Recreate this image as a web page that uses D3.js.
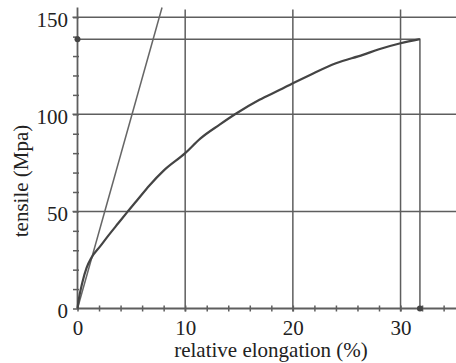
<!DOCTYPE html>
<html>
<head>
<meta charset="utf-8">
<script src="https://cdn.jsdelivr.net/npm/d3@7"></script>
<style>
  body { margin: 0; background: #fff; }
  svg text { font-family: "Liberation Serif", "DejaVu Serif", serif; }
</style>
</head>
<body>
<svg class="chart"></svg>
<script>
// measured curve: relative elongation (%) vs tensile (Mpa)
const elongation = [0, 0.1, 0.45, 0.85, 1.3, 2.1, 2.9, 3.8, 4.6, 5.5, 6.7, 8, 10, 11.4, 13.2, 14.7, 16.9, 18.8, 20, 21.6, 24, 26.5, 28, 30, 31.8];
const tensile    = [0, 4, 13.4, 21, 26.2, 32, 37.8, 44, 49.5, 55.5, 63.5, 71, 80, 87.5, 94.7, 100.3, 107.5, 112.6, 116, 120.3, 126.3, 130.6, 133.5, 136.6, 138.7];
// straight elastic line
const lineX = [0, 7.85];
const lineY = [0, 155];
// break point
const breakX = 31.8, breakY = 138.7;
const xTicks = [0, 10, 20, 30];
const yTicks = [0, 50, 100, 150];

function chart() {
    const W = 456, H = 363;
    const margin = {top: 7.5, right: 0, bottom: 54.5, left: 77.5},
        width = W - margin.left - margin.right,
        height = H - margin.top - margin.bottom;

    const svg = d3.select(".chart")
        .attr("width", W)
        .attr("height", H)
        .append("g")
        .attr("transform", `translate(${margin.left}, ${margin.top})`);

    const x = d3.scaleLinear().domain([0, 35.15]).range([0, width]);
    const y = d3.scaleLinear().domain([0, 155]).range([height, 0]);

    const gridColor = "#5e5e5e";

    // horizontal grid
    svg.append("g").selectAll("line")
        .data(yTicks.filter(d => d > 0))
        .join("line")
        .attr("x1", -5).attr("x2", width)
        .attr("y1", d => y(d)).attr("y2", d => y(d))
        .attr("stroke", gridColor).attr("stroke-width", 1.5);

    // vertical grid
    svg.append("g").selectAll("line")
        .data(xTicks.filter(d => d > 0))
        .join("line")
        .attr("x1", d => x(d)).attr("x2", d => x(d))
        .attr("y1", y(154)).attr("y2", height + 3)
        .attr("stroke", gridColor).attr("stroke-width", 1.5);

    // break guide lines
    svg.append("path")
        .attr("d", `M${x(0)},${y(breakY)}H${x(breakX)}V${y(0)}`)
        .attr("fill", "none")
        .attr("stroke", gridColor).attr("stroke-width", 1.5);

    // minor ticks
    svg.append("g")
        .attr("transform", `translate(0,${height - 3})`)
        .call(d3.axisBottom(x).tickValues(d3.range(0, 35, 2)).tickSize(6).tickFormat(""))
        .call(g => g.select(".domain").remove())
        .call(g => g.selectAll("line").attr("stroke", gridColor).attr("stroke-width", 1.5));

    svg.append("g")
        .attr("transform", "translate(1.5,0)")
        .call(d3.axisLeft(y).tickValues(d3.range(0, 151, 10)).tickSize(6).tickFormat(""))
        .call(g => g.select(".domain").remove())
        .call(g => g.selectAll("line").attr("stroke", gridColor).attr("stroke-width", 1.5));

    // axis lines
    svg.append("line")
        .attr("x1", 0).attr("x2", width)
        .attr("y1", height).attr("y2", height)
        .attr("stroke", gridColor).attr("stroke-width", 1.8);
    svg.append("line")
        .attr("x1", 0).attr("x2", 0)
        .attr("y1", height).attr("y2", y(155))
        .attr("stroke", gridColor).attr("stroke-width", 1.8);

    // tick labels
    svg.append("g")
        .attr("transform", `translate(0,${height})`)
        .call(d3.axisBottom(x).tickValues(xTicks).tickSize(0).tickPadding(12))
        .call(g => g.select(".domain").remove())
        .call(g => g.attr("font-family", null).attr("font-size", 21))
        .call(g => g.selectAll("text").attr("fill", "#222"));

    svg.append("g")
        .call(d3.axisLeft(y).tickValues(yTicks).tickSize(0).tickPadding(9.5))
        .call(g => g.select(".domain").remove())
        .call(g => g.attr("font-family", null).attr("font-size", 21))
        .call(g => g.selectAll("text").attr("fill", "#222").attr("dy", "0.45em"));

    // straight line
    svg.append("path")
        .datum(lineX.map((d, i) => [d, lineY[i]]))
        .attr("fill", "none")
        .attr("stroke", "#666")
        .attr("stroke-width", 1.5)
        .attr("d", d3.line().x(d => x(d[0])).y(d => y(d[1])));

    // curve
    svg.append("path")
        .datum(elongation.map((d, i) => [d, tensile[i]]))
        .attr("fill", "none")
        .attr("stroke", "#444")
        .attr("stroke-width", 2.2)
        .attr("d", d3.line().curve(d3.curveMonotoneX).x(d => x(d[0])).y(d => y(d[1])));

    // dots
    svg.append("circle").attr("cx", x(0)).attr("cy", y(breakY)).attr("r", 3).attr("fill", "#444");
    svg.append("circle").attr("cx", x(breakX)).attr("cy", y(0)).attr("r", 3).attr("fill", "#444");

    // axis titles
    svg.append("text")
        .attr("x", 271 - margin.left)
        .attr("y", 357 - margin.top)
        .attr("text-anchor", "middle")
        .attr("font-size", 21)
        .attr("fill", "#222")
        .text("relative elongation (%)");

    svg.append("text")
        .attr("transform", `translate(${28 - margin.left},${181 - margin.top}) rotate(-90)`)
        .attr("text-anchor", "middle")
        .attr("font-size", 21)
        .attr("fill", "#222")
        .text("tensile (Mpa)");
}

chart();
</script>
</body>
</html>
